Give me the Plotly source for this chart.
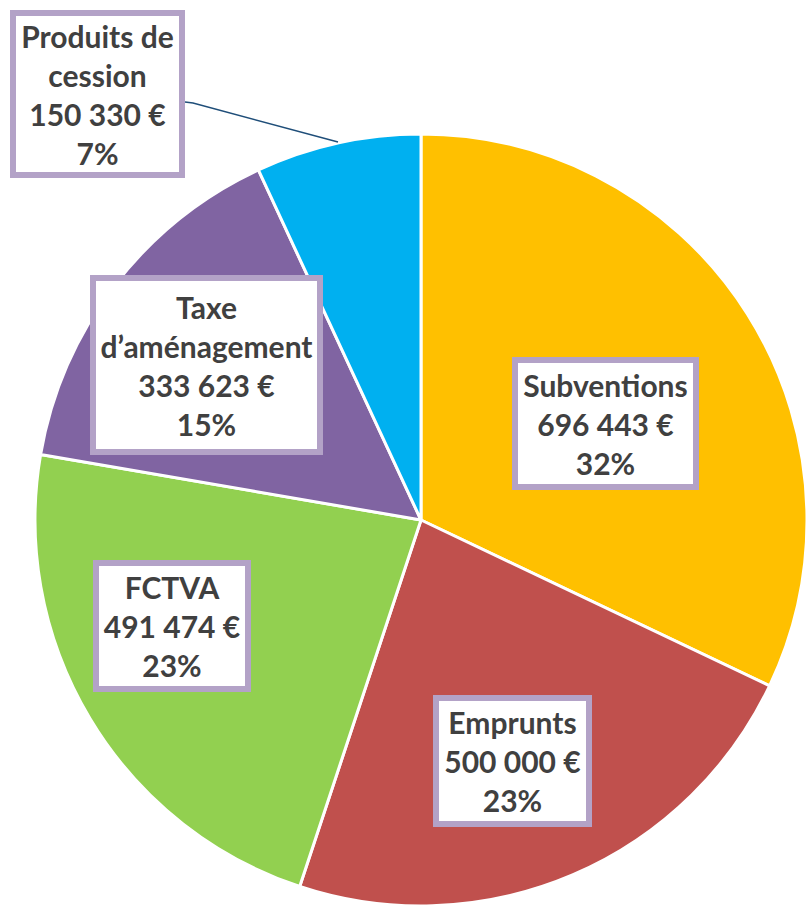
import plotly.graph_objects as go

# ---- data ----
categories = ["Subventions", "Emprunts", "FCTVA", "Taxe d\u2019aménagement", "Produits de cession"]
values = [696443, 500000, 491474, 333623, 150330]
label_lines = [["Subventions"], ["Emprunts"], ["FCTVA"], ["Taxe", "d\u2019aménagement"], ["Produits de", "cession"]]

colors = ["#FFC000", "#C0504D", "#92D050", "#8064A2", "#00B0F0"]

W, H = 807, 906

# label box layout (pixel centres and inner sizes)
box_centers = [(605.5, 423.5), (512.5, 761), (171.7, 626), (206.5, 365), (97.5, 94)]
box_sizes = [(175, 121), (147, 120), (146, 120), (221, 168), (163, 156)]

total = sum(values)

def fmt_eur(v):
    return f"{v:,}".replace(",", " ") + " €"

def px(x, y):
    return x / W, 1 - y / H

fig = go.Figure()
# pie: centre (421, 520), radius 386 in pixels
R, CX, CY = 386, 421, 520
fig.add_trace(go.Pie(
    labels=categories,
    values=values,
    sort=False,
    direction="clockwise",
    rotation=0,
    marker=dict(colors=colors, line=dict(color="white", width=3)),
    textinfo="none",
    hoverinfo="label+value+percent",
    domain=dict(x=[(CX - R) / W, 1], y=[0, 2 * R / H]),
    showlegend=False,
))

annotations = []
for lines, v, (cx, cy), (bw, bh) in zip(label_lines, values, box_centers, box_sizes):
    pct = round(100 * v / total)
    text = "<br>".join(lines + [fmt_eur(v), f"{pct}%"])
    ax, ay = px(cx, cy)
    annotations.append(dict(
        x=ax, y=ay, xref="paper", yref="paper",
        xanchor="center", yanchor="middle",
        text=text, showarrow=False,
        font=dict(family="Lato", size=30, color="#404040", weight="bold"),
        bgcolor="white", bordercolor="#B3A2C7", borderwidth=6, borderpad=0,
        width=bw, height=bh, align="center", valign="middle",
    ))

# leader line for "Produits de cession"
pts = [(185, 102), (193, 103), (338, 142)]
path = "M " + " L ".join("{},{}".format(*px(x, y)) for x, y in pts)
fig.add_shape(type="path", path=path, xref="paper", yref="paper",
              line=dict(color="#1F4E79", width=1.5), layer="above")

fig.update_layout(
    width=W, height=H,
    margin=dict(l=0, r=0, t=0, b=0),
    paper_bgcolor="white", plot_bgcolor="white",
    annotations=annotations,
)

fig.write_html(
    "out.html",
    config={"displayModeBar": False},
    post_script="document.body.style.margin='0';document.body.style.overflow='hidden';",
)
